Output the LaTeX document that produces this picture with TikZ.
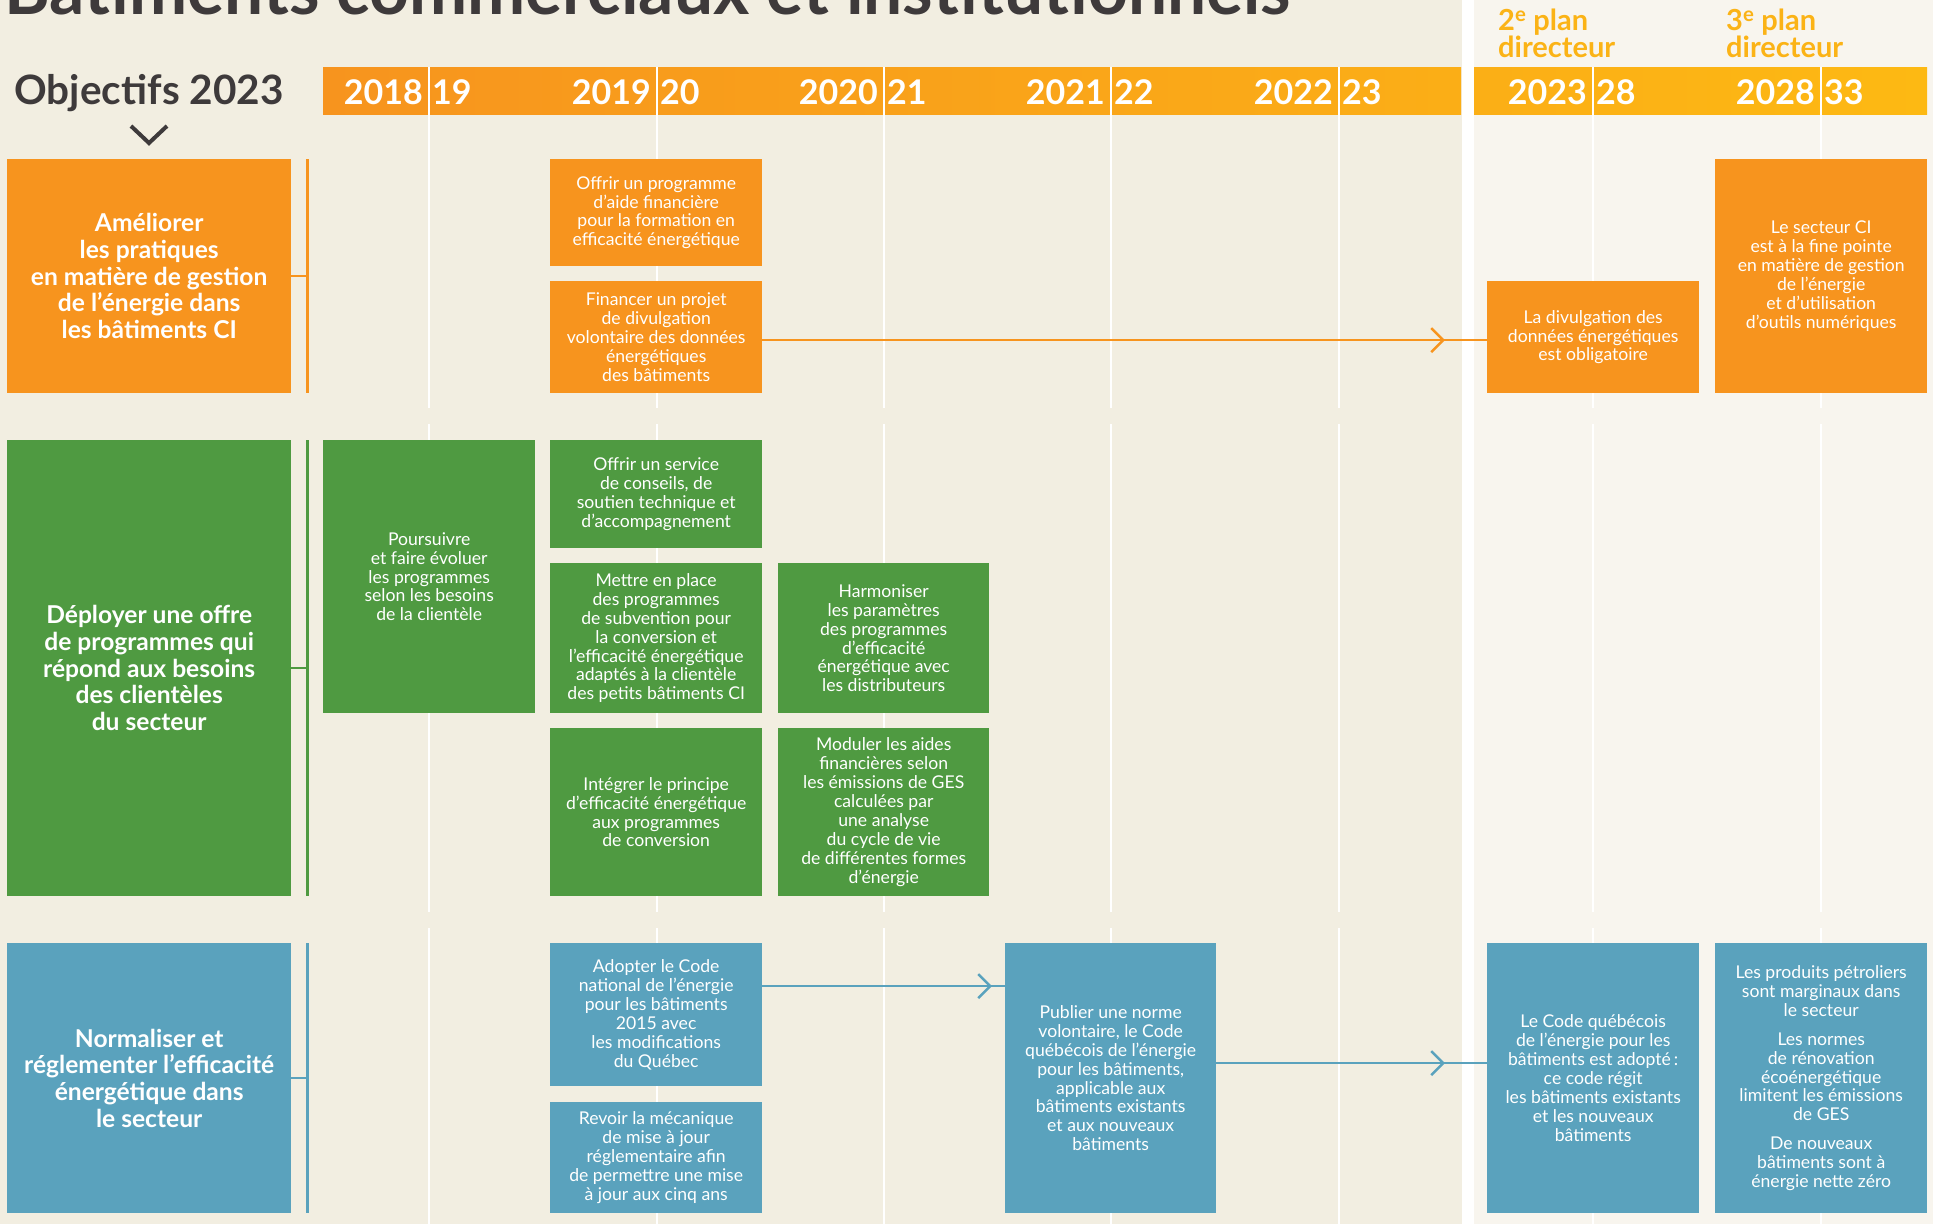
\documentclass[tikz,border=0pt]{standalone}
\usepackage{fontspec}
\setmainfont{Lato}
\usetikzlibrary{arrows.meta,decorations.markings}

\definecolor{bgbeige}{HTML}{F2EEE1}
\definecolor{bglight}{HTML}{F8F5EE}
\definecolor{orangeCI}{HTML}{F7941E}
\definecolor{greenCI}{HTML}{4F9A41}
\definecolor{blueCI}{HTML}{5AA2BD}
\definecolor{hdrA}{HTML}{F7941E}
\definecolor{hdrB}{HTML}{FDB913}
\definecolor{plantext}{HTML}{FBB316}
\definecolor{darktxt}{HTML}{3E3A3B}

\begin{document}
\begin{tikzpicture}[x=1pt, y=-1pt,
  act/.style={fill=#1, anchor=north west, text=white, align=center, inner sep=0pt,
    font=\fontsize{17.6}{18.9}\selectfont, execute at begin node={\rule{0pt}{22pt}}},
  obj/.style={fill=#1, anchor=north west, text=white, align=center, inner sep=0pt,
    minimum width=284pt, font=\bfseries\fontsize{24.6}{26.7}\selectfont,
    execute at begin node={\rule{0pt}{30pt}}},
  brk/.style={draw=#1, line width=2.5pt},
  gridline/.style={white, line width=2.5pt},
  yearlbl/.style={text=white, inner sep=0pt, font=\bfseries\fontsize{34}{36}\selectfont},
  plan/.style={text=plantext, inner sep=0pt, anchor=north west, align=left,
    font=\bfseries\fontsize{29}{25}\selectfont},
  arr/.style 2 args={draw=#1, line width=2.5pt, postaction={decorate, decoration={markings,
    mark=at position -#2 with {\arrow[#1]{Straight Barb[length=12pt,width=24pt]}}}}},
]
  \useasboundingbox (0,0) rectangle (1933,1224);
  \clip (0,0) rectangle (1933,1224);

  % background
  \fill[bgbeige] (0,0) rectangle (1462,1224);
  \fill[white] (1462,0) rectangle (1474,1224);
  \fill[bglight] (1474,0) rectangle (1933,1224);

  \node[anchor=base west, text=darktxt, inner sep=0pt, font=\bfseries\fontsize{69.5}{70}\selectfont]
    (title) at (4,14) {Bâtiments commerciaux et institutionnels};

  \node[anchor=base, text=darktxt, inner sep=0pt, font=\bfseries\fontsize{40.5}{42}\selectfont]
    (objectifs) at (149,104) {Objectifs 2023};
  \draw[darktxt, line width=4pt] (131,126) -- (149,143) -- (167,126);

  \node[plan] (plan2) at (1498,8.5) {2\textsuperscript{e} plan\\directeur};
  \node[plan] (plan3) at (1726,8.5) {3\textsuperscript{e} plan\\directeur};

  % year bar
  \fill[left color=hdrA, right color=hdrB!71!hdrA] (323,67) rectangle (1461,114);
  \fill[left color=hdrB!72!hdrA, right color=hdrB] (1474,67) rectangle (1927,114);

  \foreach \x in {429,657,884,1111,1339,1593,1821}
    \draw[gridline] (\x,67) -- (\x,408) (\x,424) -- (\x,912) (\x,928) -- (\x,1224);

  \foreach \x/\a/\b in {429/2018/19, 657/2019/20, 884/2020/21, 1111/2021/22,
                        1339/2022/23, 1593/2023/28, 1821/2028/33} {
    \node[yearlbl, anchor=base east] (ya\a) at (\x-6,104) {\a};
    \node[yearlbl, anchor=base west] (yb\a) at (\x+3,104) {\b};
  }

  % objectifs
  \node[obj=orangeCI, minimum height=234pt] (ob1) at (7,159)
    {Améliorer\\les pratiques\\en matière de gestion\\de l’énergie dans\\les bâtiments CI};
  \node[obj=greenCI, minimum height=456pt] (ob2) at (7,440)
    {Déployer une offre\\de programmes qui\\répond aux besoins\\des clientèles\\du secteur};
  \node[obj=blueCI, minimum height=270pt] (ob3) at (7,943)
    {Normaliser et\\réglementer l’efficacité\\énergétique dans\\le secteur};

  \foreach \o/\c in {ob1/orangeCI, ob2/greenCI, ob3/blueCI}
    \draw[brk=\c] ([xshift=16pt]\o.north east) -- ([xshift=16pt]\o.south east)
      (\o.east) -- ([xshift=16pt]\o.east);

  % actions
  \node[act=orangeCI, minimum width=212pt, minimum height=107pt] (aide) at (550,159)
    {Offrir un programme\\d’aide financière\\pour la formation en\\efficacité énergétique};
  \node[act=orangeCI, minimum width=212pt, minimum height=112pt] (financer) at (550,281)
    {Financer un projet\\de divulgation\\volontaire des données\\énergétiques\\des bâtiments};
  \node[act=orangeCI, minimum width=212pt, minimum height=112pt] (divulg) at (1487,281)
    {La divulgation des\\données énergétiques\\est obligatoire};
  \node[act=orangeCI, minimum width=212pt, minimum height=234pt] (pointe) at (1715,159)
    {Le secteur CI\\est à la fine pointe\\en matière de gestion\\de l’énergie\\et d’utilisation\\d’outils numériques};

  \node[act=greenCI, minimum width=212pt, minimum height=273pt] (poursuivre) at (323,440)
    {Poursuivre\\et faire évoluer\\les programmes\\selon les besoins\\de la clientèle};
  \node[act=greenCI, minimum width=212pt, minimum height=108pt] (service) at (550,440)
    {Offrir un service\\de conseils, de\\soutien technique et\\d’accompagnement};
  \node[act=greenCI, minimum width=212pt, minimum height=150pt] (mettre) at (550,563)
    {Mettre en place\\des programmes\\de subvention pour\\la conversion et\\l’efficacité énergétique\\adaptés à la clientèle\\des petits bâtiments CI};
  \node[act=greenCI, minimum width=211pt, minimum height=150pt] (harmon) at (778,563)
    {Harmoniser\\les paramètres\\des programmes\\d’efficacité\\énergétique avec\\les distributeurs};
  \node[act=greenCI, minimum width=212pt, minimum height=168pt] (integrer) at (550,728)
    {Intégrer le principe\\d’efficacité énergétique\\aux programmes\\de conversion};
  \node[act=greenCI, minimum width=211pt, minimum height=168pt] (moduler) at (778,728)
    {Moduler les aides\\financières selon\\les émissions de GES\\calculées par\\une analyse\\du cycle de vie\\de différentes formes\\d’énergie};

  \node[act=blueCI, minimum width=212pt, minimum height=143pt] (adopter) at (550,943)
    {Adopter le Code\\national de l’énergie\\pour les bâtiments\\2015 avec\\les modifications\\du Québec};
  \node[act=blueCI, minimum width=212pt, minimum height=111pt] (revoir) at (550,1102)
    {Revoir la mécanique\\de mise à jour\\réglementaire afin\\de permettre une mise\\à jour aux cinq ans};
  \node[act=blueCI, minimum width=211pt, minimum height=270pt] (publier) at (1005,943)
    {Publier une norme\\volontaire, le Code\\québécois de l’énergie\\pour les bâtiments,\\applicable aux\\bâtiments existants\\et aux nouveaux\\bâtiments};
  \node[act=blueCI, minimum width=212pt, minimum height=270pt] (codeqc) at (1487,943)
    {Le Code québécois\\de l’énergie pour les\\bâtiments est adopté\,:\\ce code régit\\les bâtiments existants\\et les nouveaux\\bâtiments};
  \node[act=blueCI, minimum width=212pt, minimum height=270pt] (produits) at (1715,943)
    {Les produits pétroliers\\sont marginaux dans\\le secteur\\[10pt]Les normes\\de rénovation\\écoénergétique\\limitent les émissions\\de GES\\[10pt]De nouveaux\\bâtiments sont à\\énergie nette zéro};

  % arrows
  \draw[arr={orangeCI}{42pt}] ([yshift=-3pt]financer.east) coordinate (f1) -- (f1 -| divulg.west);
  \draw[arr={blueCI}{13pt}] ([yshift=28.5pt]adopter.east) coordinate (a1) -- (a1 -| publier.west);
  \draw[arr={blueCI}{42pt}] ([yshift=15pt]publier.east) coordinate (p1) -- (p1 -| codeqc.west);
\end{tikzpicture}
\end{document}
